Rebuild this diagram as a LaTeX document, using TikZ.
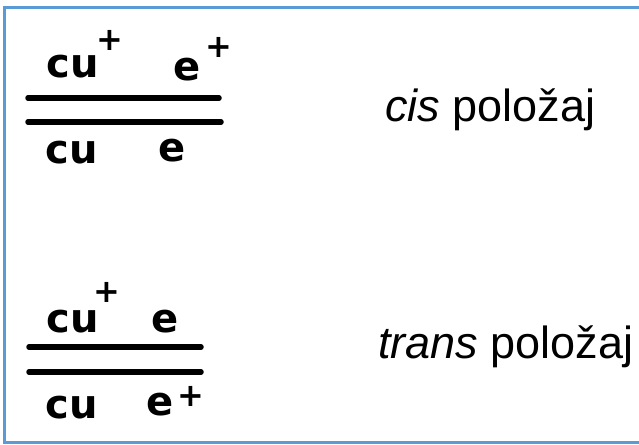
\documentclass[tikz,border=0pt]{standalone}
\usepackage{fontspec}
\setmainfont{Liberation Sans}
\newfontfamily\hand{DejaVu Sans}
\definecolor{frameblue}{RGB}{91,155,213}
\begin{document}
\begin{tikzpicture}[x=1pt,y=-1pt,
  hw/.style={font=\hand\bfseries\fontsize{40}{42}\selectfont, inner sep=0},
  pl/.style={font=\hand\bfseries\fontsize{32}{34}\selectfont, inner sep=0},
  lab/.style={font=\fontsize{45}{50}\selectfont, anchor=base west, inner sep=0},
  bar/.style={line width=5.5pt, line cap=round},
  frame/.style={draw=frameblue, line width=2.2pt}]
\useasboundingbox (0,0) rectangle (639,444);
\draw[frame] (650,7.5) -- (4.5,7.5) -- (4.5,442.5) -- (650,442.5);
% cis
\node[hw] (c1) at (73,67) {cu};
\node[pl] (p1) at (110,40) {+};
\node[hw] (e1) at (187,70) {e};
\node[pl] (p2) at (219,47) {+};
\coordinate (l1a) at (28,98);  \coordinate (l1b) at (219,98);
\coordinate (l2a) at (28,122); \coordinate (l2b) at (221,122);
\draw[bar] (l1a) -- (l1b);
\draw[bar] (l2a) -- (l2b);
\node[hw] (c2) at (72,153) {cu};
\node[hw] (e2) at (172,151) {e};
\node[lab] (cis) at (385,121) {\textit{cis} položaj};
% trans
\node[hw] (c3) at (73,322) {cu};
\node[pl] (p3) at (107,292) {+};
\node[hw] (e3) at (165,322) {e};
\coordinate (l3a) at (29,347); \coordinate (l3b) at (201,347);
\coordinate (l4a) at (29,372); \coordinate (l4b) at (201,372);
\draw[bar] (l3a) -- (l3b);
\draw[bar] (l4a) -- (l4b);
\node[hw] (c4) at (72,408) {cu};
\node[hw] (e4) at (160,405) {e};
\node[pl] (p4) at (191,396) {+};
\node[lab] (trans) at (378,358) {\textit{trans} položaj};
\end{tikzpicture}
\end{document}
